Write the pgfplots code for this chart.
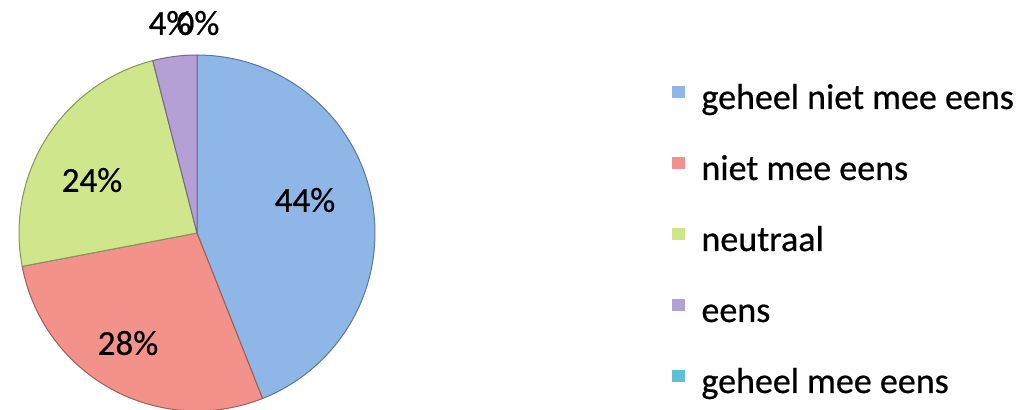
\documentclass[border=0pt]{standalone}
\usepackage{pgfplots}
\pgfplotsset{compat=1.18}
\usepackage{pgfplotstable}
\usepackage{fontspec}
\setmainfont{Carlito}[FakeBold=0.6]

\definecolor{pieblue}{HTML}{8EB7E8}
\definecolor{piered}{HTML}{F2928A}
\definecolor{piegreen}{HTML}{CFE68C}
\definecolor{piepurple}{HTML}{B5A0D6}
\definecolor{piecyan}{HTML}{62BFD6}

% share of answers, in percent, clockwise from 12 o'clock
\pgfplotstableread{
value
44
28
24
4
0
}\piedata

\begin{document}
\begin{tikzpicture}
% cumulative start/end angles of the slices
\def\angleacc{90}
\foreach \i in {0,...,4}{%
  \pgfplotstablegetelem{\i}{value}\of\piedata
  \pgfmathsetmacro\endang{\angleacc-3.6*\pgfplotsretval}
  \expandafter\xdef\csname pieA\i\endcsname{\angleacc}
  \expandafter\xdef\csname pieB\i\endcsname{\endang}
  \global\let\angleacc\endang
}
\begin{axis}[
    width=513.5pt, height=204.5pt, scale only axis,
    xmin=0, xmax=1027, ymin=0, ymax=409,
    hide axis,
    legend style={at={(0.6543,0.7922)}, anchor=north west,
        draw=none, fill=none, inner sep=0pt, outer sep=0pt,
        row sep=19.5pt,
        nodes={inner sep=0pt, text height=12pt, text depth=4pt,
            font=\fontsize{18}{20}\selectfont}},
    legend cell align=left,
    legend image code/.code={%
        \fill[#1, draw=none] (0pt,1.4pt) rectangle (6.5pt,7.4pt);
        \path (14.5pt,0pt);
    },
]
\addplot[fill=pieblue, draw=pieblue!65!black, line width=0.5pt,
    domain=\csname pieB0\endcsname:\csname pieA0\endcsname, samples=90]
    ({197+178*cos(x)},{176+178*sin(x)}) -- (axis cs:197,176) -- cycle;
\addplot[fill=piered, draw=piered!65!black, line width=0.5pt,
    domain=\csname pieB1\endcsname:\csname pieA1\endcsname, samples=60]
    ({197+178*cos(x)},{176+178*sin(x)}) -- (axis cs:197,176) -- cycle;
\addplot[fill=piegreen, draw=piegreen!65!black, line width=0.5pt,
    domain=\csname pieB2\endcsname:\csname pieA2\endcsname, samples=60]
    ({197+178*cos(x)},{176+178*sin(x)}) -- (axis cs:197,176) -- cycle;
\addplot[fill=piepurple, draw=piepurple!65!black, line width=0.5pt,
    domain=\csname pieB3\endcsname:\csname pieA3\endcsname, samples=10]
    ({197+178*cos(x)},{176+178*sin(x)}) -- (axis cs:197,176) -- cycle;
% the 0 % slice has no area: legend entry only
\addlegendimage{fill=piecyan}
\legend{geheel niet mee eens, niet mee eens, neutraal, eens, geheel mee eens}

\node[font=\fontsize{17.5}{20}\selectfont] at (axis cs:305,209) {44\%};
\node[font=\fontsize{17.5}{20}\selectfont] at (axis cs:128,66) {28\%};
\node[font=\fontsize{17.5}{20}\selectfont] at (axis cs:92,229) {24\%};
\node[font=\fontsize{17.5}{20}\selectfont] at (axis cs:170,386) {4\%};
\node[font=\fontsize{17.5}{20}\selectfont] at (axis cs:198,386) {0\%};
\end{axis}
\pgfresetboundingbox
\useasboundingbox (current axis.south west) rectangle (current axis.north east);
\end{tikzpicture}
\end{document}
